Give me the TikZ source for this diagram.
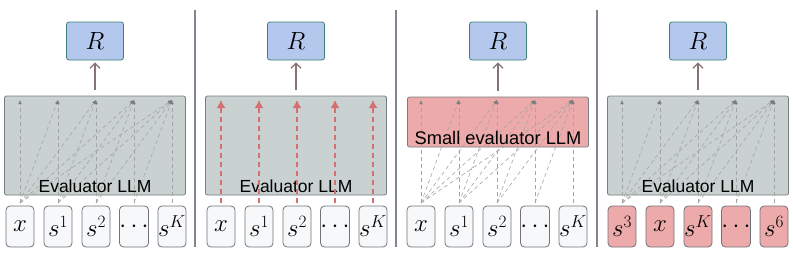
\documentclass[tikz,border=0pt]{standalone}
\usepackage[no-math]{fontspec}
\newfontfamily\evalfont{Liberation Sans}
\definecolor{rewfill}{RGB}{180,200,238}
\definecolor{rewdraw}{RGB}{62,128,120}
\definecolor{evalfill}{RGB}{201,209,209}
\definecolor{evaldraw}{RGB}{118,126,130}
\definecolor{redfill}{RGB}{236,170,170}
\definecolor{tokfill}{RGB}{246,248,250}
\definecolor{tokdraw}{RGB}{112,116,122}
\definecolor{linkgray}{RGB}{165,165,165}
\definecolor{tipgray}{RGB}{125,125,125}
\definecolor{linkred}{RGB}{212,112,112}
\definecolor{outbrown}{RGB}{135,115,115}
\definecolor{sepgray}{RGB}{128,132,142}
\usetikzlibrary{arrows.meta, positioning}

\begin{document}
\begin{tikzpicture}[
    x=1pt, y=-1pt,
    rew/.style={rectangle, rounded corners=2.5pt, minimum width=57, minimum height=38,
                fill=rewfill, draw=rewdraw, line width=0.8pt, font=\fontsize{24}{28}\selectfont},
    evalbox/.style={rectangle, rounded corners=2pt, minimum width=181, minimum height=99,
                fill=evalfill, draw=evaldraw, line width=0.8pt},
    tok/.style={rectangle, rounded corners=4pt, minimum width=28, minimum height=41, inner sep=0pt,
                fill=tokfill, draw=tokdraw, line width=0.8pt, font=\fontsize{24}{28}\selectfont},
    evallabel/.style={font=\evalfont\fontsize{17.5}{20}\selectfont, inner sep=0pt},
    link/.style={dash pattern=on 4pt off 3pt, line width=0.6pt, color=linkgray,
                 -{Latex[length=4pt, width=3.5pt, color=tipgray]}},
    redlink/.style={dash pattern=on 5pt off 4pt, line width=1.4pt, color=linkred,
                    -{Latex[length=8pt, width=9pt]}},
    outarrow/.style={line width=1.3pt, color=outbrown, shorten <=6pt, shorten >=2pt,
                     -{Straight Barb[length=5pt, width=10pt]}},
    sepline/.style={line width=1.4pt, color=sepgray}
]
\useasboundingbox (0,0) rectangle (793,257);

% separators
\draw[sepline] (195,10) -- (195,247);
\draw[sepline] (396,10) -- (396,247);
\draw[sepline] (597,10) -- (597,247);

% --- panel 1: evaluator, causal links ---
\node[rew] (rew1) at (95,41) {$R$};
\node[evalbox] (eval1) at (95,145.5) {};
\foreach \i/\t in {1/x, 2/s^1, 3/s^2, 4/\cdots, 5/s^K} {
    \node[tok] (tok1-\i) at ({20+38*(\i-1)},226.5) {$\t$};
    \coordinate (in1-\i) at ({20+38*(\i-1)},203);
    \coordinate (top1-\i) at ({20+38*(\i-1)},100);
}
\foreach \i in {1,...,5}
    \foreach \j in {\i,...,5}
        \draw[link] (in1-\i) -- (top1-\j);
\node[evallabel] (lab1) at (95,186) {Evaluator LLM};
\draw[outarrow] (eval1) -- (rew1);

% --- panel 2: evaluator, one link per token ---
\node[rew] (rew2) at (296,41) {$R$};
\node[evalbox] (eval2) at (296,145.5) {};
\foreach \i/\t in {1/x, 2/s^1, 3/s^2, 4/\cdots, 5/s^K} {
    \node[tok] (tok2-\i) at ({221+38*(\i-1)},226.5) {$\t$};
    \coordinate (in2-\i) at ({221+38*(\i-1)},203);
    \coordinate (top2-\i) at ({221+38*(\i-1)},100);
}
\node[evallabel] (lab2) at (296,186) {Evaluator LLM};
\foreach \i in {1,...,5}
    \draw[redlink] (in2-\i) -- (top2-\i);
\draw[outarrow] (eval2) -- (rew2);

% --- panel 3: small evaluator ---
\node[rew] (rew3) at (498,41) {$R$};
\node[evalbox, fill=redfill, minimum height=50] (eval3) at (498,122) {};
\foreach \i/\t in {1/x, 2/s^1, 3/s^2, 4/\cdots, 5/s^K} {
    \node[tok] (tok3-\i) at ({421+38*(\i-1)},226.5) {$\t$};
    \coordinate (in3-\i) at ({421+38*(\i-1)},203);
    \coordinate (top3-\i) at ({421+38*(\i-1)},100);
}
\foreach \i in {1,...,5}
    \foreach \j in {\i,...,5}
        \draw[link] (in3-\i) -- (top3-\j);
\node[evallabel, font=\evalfont\fontsize{18.3}{20}\selectfont] (lab3) at (498,138) {Small evaluator LLM};
\draw[outarrow] (eval3) -- (rew3);

% --- panel 4: shuffled inputs ---
\node[rew] (rew4) at (698,41) {$R$};
\node[evalbox] (eval4) at (698,145.5) {};
\foreach \i/\t in {1/s^3, 2/x, 3/s^K, 4/\cdots, 5/s^6} {
    \node[tok, fill=redfill] (tok4-\i) at ({622+38*(\i-1)},226.5) {$\t$};
    \coordinate (in4-\i) at ({622+38*(\i-1)},203);
    \coordinate (top4-\i) at ({622+38*(\i-1)},100);
}
\foreach \i in {1,...,5}
    \foreach \j in {\i,...,5}
        \draw[link] (in4-\i) -- (top4-\j);
\node[evallabel] (lab4) at (698,186) {Evaluator LLM};
\draw[outarrow] (eval4) -- (rew4);

\end{tikzpicture}
\end{document}
